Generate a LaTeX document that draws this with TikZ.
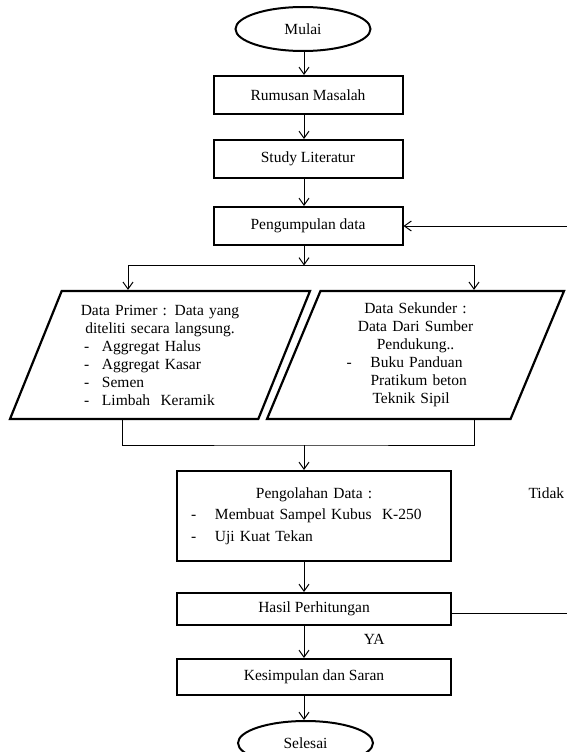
\documentclass[tikz,border=0pt]{standalone}
\usepackage{fontspec}
\setmainfont{Liberation Serif}
\usetikzlibrary{arrows.meta,positioning,shapes.geometric}

\begin{document}
\begin{tikzpicture}[x=1pt, y=-1pt, font=\fontsize{15.5}{18}\selectfont,
    terminal/.style = {draw, ellipse, line width=2pt, minimum width=135pt, minimum height=44pt, inner sep=0pt},
    proses/.style = {draw, rectangle, line width=2pt, minimum width=189pt, minimum height=38pt, inner sep=0pt},
    daftar/.style = {align=left, execute at begin node=\setlength{\parindent}{0pt}},
    data/.style = {draw, trapezium, trapezium left angle=64.5, trapezium right angle=115.5,
        trapezium stretches body, line width=2.2pt, minimum height=128pt, inner sep=4pt, daftar},
    alur/.style = {line width=1pt, -{Straight Barb[length=7pt,width=10pt]}},
    garis/.style = {line width=1pt}]
    \useasboundingbox (0,0) rectangle (566,752);
    \coordinate (spine) at (304,0);
    \coordinate (balik) at (571,0);

    \node[terminal] (mulai) at (303,29) {Mulai};
    \node[proses] (rumusan) [below=23pt of mulai, xshift=5pt] {Rumusan Masalah};
    \node[proses] (studi) [below=24pt of rumusan] {Study Literatur};
    \node[proses] (kumpul) [below=27pt of studi] {Pengumpulan data};

    \node[data, minimum width=300pt, text width=160pt] (primer) at (160,355) {%
        {\centering Data Primer : Data yang\par diteliti secara langsung.\par}
        \makebox[22pt][l]{\hspace*{4pt}-}Aggregat Halus\par
        \makebox[22pt][l]{\hspace*{4pt}-}Aggregat Kasar\par
        \makebox[22pt][l]{\hspace*{4pt}-}Semen\par
        \makebox[22pt][l]{\hspace*{4pt}-}Limbah\ \ Keramik};
    \node[data, minimum width=297pt, text width=138pt] (sekunder) at (415.5,355) {%
        {\centering Data Sekunder :\par Data Dari Sumber\par Pendukung..\par}
        \makebox[24pt][l]{-}Buku Panduan\par
        \hspace*{24pt}Pratikum beton\par
        \hspace*{26pt}Teknik Sipil};

    \node[proses, daftar, minimum width=274pt, minimum height=90pt, text width=246pt, inner xsep=14pt,
        font=\fontsize{15.5}{21.5}\selectfont] (olah) at (314,516) {%
        {\centering Pengolahan Data :\par}
        \makebox[24pt][l]{-}Membuat Sampel Kubus\ \ K-250\par
        \makebox[24pt][l]{-}Uji Kuat Tekan};
    \node[proses, minimum width=274pt, minimum height=32pt] (hasil) [below=30pt of olah] {Hasil Perhitungan};
    \node[proses, minimum width=274pt, minimum height=36pt] (simpul) [below=32pt of hasil] {Kesimpulan dan Saran};
    \node[terminal] (selesai) [below=24pt of simpul, xshift=-8.5pt] {Selesai};

    \coordinate (cabang) at (304,265.5);
    \coordinate (gabung) at (304,445);
    \coordinate (hasilkanan) at ([yshift=-4pt]hasil.east);

    \draw[alur] (mulai.south -| spine) -- (rumusan.north -| spine);
    \draw[alur] (rumusan.south -| spine) -- (studi.north -| spine);
    \draw[alur] (studi.south -| spine) -- (kumpul.north -| spine);
    \draw[alur] (kumpul.south -| spine) -- (cabang);
    \draw[alur] (cabang) -| ([xshift=-32pt]primer.north);
    \draw[alur] (cabang) -| ([xshift=58.5pt]sekunder.north);
    \draw[garis] ([xshift=-38pt]primer.south) |- (gabung) -| ([xshift=58.5pt]sekunder.south);
    \draw[alur] (gabung) -- (olah.north -| gabung);
    \draw[alur] (olah.south -| spine) -- (hasil.north -| spine);
    \draw[alur] (hasil.south -| spine) -- node[right=56pt, yshift=3pt] {YA} (simpul.north -| spine);
    \draw[alur] (simpul.south -| spine) -- (selesai.north -| spine);
    \draw[alur] (hasilkanan) -- (hasilkanan -| balik) -- node[pos=.31, left=3pt] {Tidak} (kumpul.east -| balik) -- (kumpul.east);
\end{tikzpicture}
\end{document}
